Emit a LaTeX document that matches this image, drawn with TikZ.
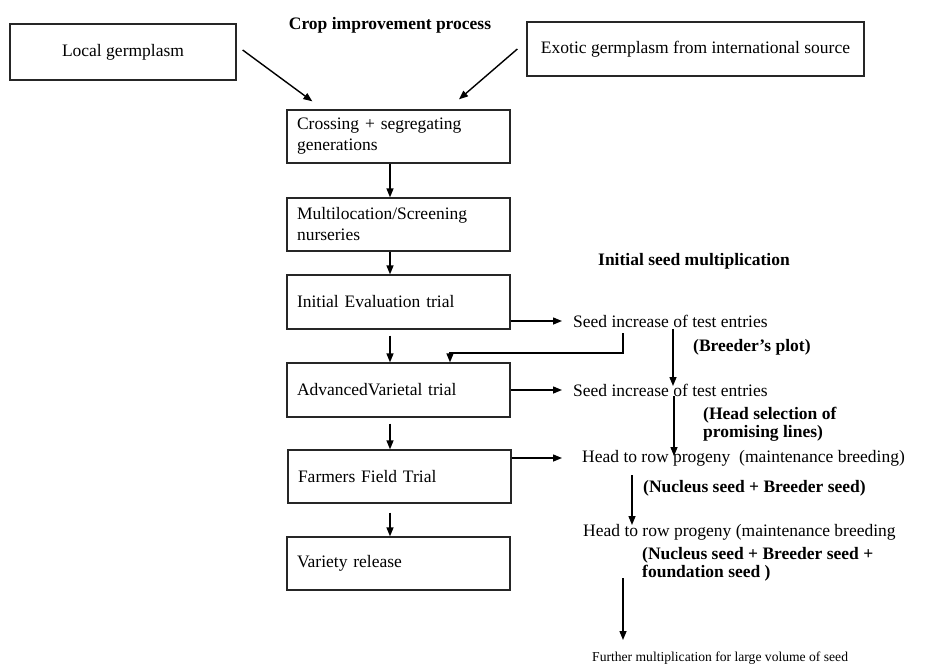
\documentclass[tikz,border=0pt]{standalone}
\usepackage{fontspec}
\setmainfont{Liberation Serif}
\usetikzlibrary{arrows.meta,calc}
\newcommand\myfs{\fontsize{17.5}{21}\selectfont}
\newcommand\myfst{\fontsize{17.5}{18}\selectfont}
\begin{document}
\begin{tikzpicture}[x=1pt,y=1pt,
  font=\myfs,
  box/.style={draw=black!85, line width=1.3pt, rectangle, inner sep=0pt},
  lbox/.style={box, text width=203pt, inner xsep=10pt, minimum height=53pt, align=left},
  txt/.style={inner sep=0pt, anchor=west},
  bt/.style={txt, font=\myfs\bfseries},
  bt2/.style={txt, font=\myfst\bfseries, align=left},
  arr/.style={line width=1.4pt, -{Triangle[length=9pt,width=7pt]}}]
\fill[white] (0,0) rectangle (928,-666);
\useasboundingbox (0,0) rectangle (928,-666);

% title boxes
\node[font=\myfs\bfseries, inner sep=0pt] (title) at (390,-25) {Crop improvement process};
\node[box, minimum width=226pt, minimum height=56pt] (local) at (123,-52) {Local germplasm};
\node[box, minimum width=337pt, minimum height=54pt] (exotic) at (695.5,-49) {Exotic germplasm from international source};

% main column
\node[lbox] (cross) at (398.5,-136.5) {Crossing + segregating\\generations};
\node[lbox] (multi) at (398.5,-224.5) {Multilocation/Screening\\nurseries};
\node[lbox, minimum height=54pt] (init) at (398.5,-302) {Initial Evaluation trial};
\node[lbox, minimum height=54pt] (adv) at (398.5,-390) {AdvancedVarietal trial};
\node[lbox] (farm) at (399.5,-476.5) {Farmers Field Trial};
\node[lbox] (var) at (398.5,-563.5) {Variety release};

% right side texts
\node[bt] (ismult) at (598,-261) {Initial seed multiplication};
\node[txt] (seedA) at (573,-321) {Seed increase of test entries};
\node[bt] (bplot) at (693,-347) {(Breeder's plot)};
\node[txt] (seedB) at (573,-390) {Seed increase of test entries};
\node[bt2] (hsel) at (703,-424) {(Head selection of\\promising lines)};
\node[txt] (htrA) at (582,-458) {Head to row progeny\ \ (maintenance breeding)};
\node[bt] (nbA) at (643,-488) {(Nucleus seed + Breeder seed)};
\node[txt] (htrB) at (583,-532) {Head to row progeny (maintenance breeding};
\node[bt2] (nbB) at (642,-564) {(Nucleus seed + Breeder seed +\\foundation seed )};
\node[txt, font=\fontsize{13.6}{16}\selectfont] (further) at (592,-658) {Further multiplication for large volume of seed};

% arrows top
\draw[arr] ($(local.east)+(6,2)$) -- ($(cross.north west)+(26,8)$);
\draw[arr] ($(exotic.west)+(-9,0)$) -- ($(cross.north)+(60.5,10)$);

% vertical chain
\draw[arr] ($(cross.south)+(-8.5,0)$) -- ($(multi.north)+(-8.5,0)$);
\draw[arr] ($(multi.south)+(-8.5,0)$) -- ($(init.north)+(-8.5,0)$);
\draw[arr] ($(init.south)+(-8.5,-6)$) -- ($(adv.north)+(-8.5,0)$);
\draw[arr] ($(adv.south)+(-8.5,-6)$) -- ($(farm.north)+(-9.5,0)$);
\draw[arr] ($(farm.south)+(-9.5,-9)$) -- ($(var.north)+(-8.5,0)$);

% horizontal
\draw[arr] (init.east |- seedA.west) -- ($(seedA.west)+(-11,0)$);
\draw[arr] (adv.east |- seedB.west) -- ($(seedB.west)+(-11,0)$);
\draw[arr] (farm.east |- htrA.west) -- ($(htrA.west)+(-20,0)$);

% feedback
\draw[arr] ($(seedA.west)+(50,-12)$) -- ++(0,-20) -| ($(adv.north)+(51.5,0)$);

% right vertical chain
\draw[arr] ($(seedA.west)+(100,-8)$) -- ($(seedB.west)+(100,4)$);
\draw[arr] ($(seedB.west)+(101,-6)$) -- ($(htrA.west)+(92,2)$);
\draw[arr] ($(htrA.west)+(50,-17)$) -- ($(htrB.west)+(49,7)$);
\draw[arr] ($(htrB.west)+(40,-46)$) -- ($(further.west)+(31,18)$);
\end{tikzpicture}
\end{document}
